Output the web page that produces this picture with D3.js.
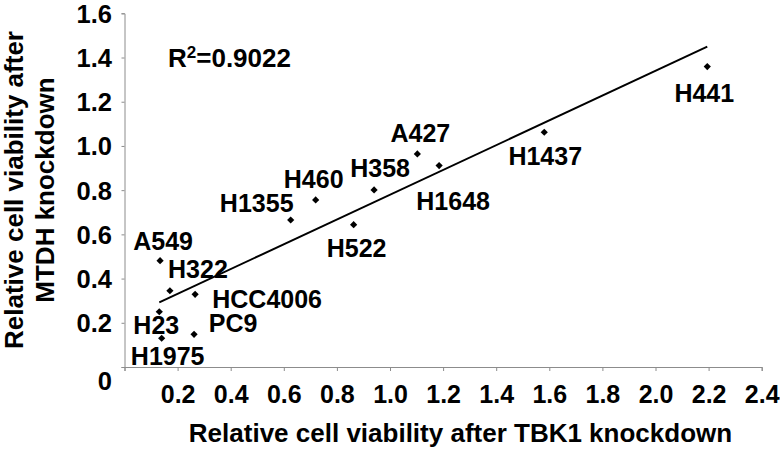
<!DOCTYPE html>
<html>
<head>
<meta charset="utf-8">
<script src="https://cdn.jsdelivr.net/npm/d3@7"></script>
<style>
  html, body { margin: 0; padding: 0; background: #fff; }
  svg { display: block; font-family: "Liberation Sans", Arial, sans-serif; font-weight: bold; }
</style>
</head>
<body>
<svg id="chart" width="780" height="452"></svg>
<script>
// cell lines and their relative viability after knockdown
const cellLines = ["A549", "H322", "HCC4006", "H23", "H1975", "PC9", "H1355", "H460",
                   "H358", "A427", "H1648", "H522", "H1437", "H441"]
const tbk1 = [0.134, 0.171, 0.266, 0.131, 0.140, 0.262, 0.626, 0.720,
              0.940, 1.103, 1.185, 0.863, 1.581, 2.195]
const mtdh = [0.481, 0.345, 0.329, 0.250, 0.130, 0.148, 0.665, 0.756,
              0.801, 0.964, 0.911, 0.644, 1.062, 1.359]
const xTicks = [0, 0.2, 0.4, 0.6, 0.8, 1.0, 1.2, 1.4, 1.6, 1.8, 2.0, 2.2, 2.4]
const yTicks = [0, 0.2, 0.4, 0.6, 0.8, 1.0, 1.2, 1.4, 1.6]
const rSquared = "0.9022"

// where each cell line name sits relative to its marker (px)
const labelDx = [3, 28, 72, -3, 6, 39, -34, -2, 6, 3, 14, 3, 1, -3]
const labelDy = [-11, -13, 14, 22, 27, -2, -8, -12, -13, -12, 44, 32, 33, 35]

let data = cellLines.map((name, i) => ({name: name, x: tbk1[i], y: mtdh[i], dx: labelDx[i], dy: labelDy[i]}))

let width = 780
let height = 452
let margin = ({top: 13.3, right: 18.3, bottom: 85, left: 124.5})

let x = d3.scaleLinear()
    .domain([0, 2.4])
    .range([margin.left, width - margin.right])
let y = d3.scaleLinear()
    .domain([0, 1.6])
    .range([height - margin.bottom, margin.top])

const svg = d3.select("#chart")
const axisColor = "#8c8c8c"

// x axis
svg.append("g")
    .attr("transform", `translate(0,${height - margin.bottom})`)
    .call(d3.axisBottom(x).tickValues(xTicks).tickSizeOuter(0).tickSize(4)
        .tickFormat(d => d === 0 ? "" : d3.format(".1f")(d)))
    .call(g => g.selectAll("path, line").attr("stroke", axisColor))
    .call(g => g.selectAll(".tick text")
        .attr("y", 36).attr("dy", 0)
        .attr("fill", "#000")
        .attr("font-size", 25)
        .attr("font-weight", "bold")
        .attr("font-family", "Liberation Sans, Arial, sans-serif"))

// y axis
svg.append("g")
    .attr("transform", `translate(${margin.left},0)`)
    .call(d3.axisLeft(y).tickValues(yTicks).tickSizeOuter(0).tickSize(3).tickPadding(9.5)
        .tickFormat(d => d === 0 ? "0" : d3.format(".1f")(d)))
    .call(g => g.selectAll("path, line").attr("stroke", axisColor))
    .call(g => g.selectAll(".tick text")
        .attr("fill", "#000")
        .attr("font-size", 25.5)
        .attr("font-weight", "bold")
        .attr("font-family", "Liberation Sans, Arial, sans-serif")
        .attr("dy", d => d === 0 ? "0.9em" : "0.35em"))

// least squares trend line
let mx = d3.mean(tbk1), my = d3.mean(mtdh)
let sxy = d3.sum(tbk1, (v, i) => (v - mx) * (mtdh[i] - my))
let sxx = d3.sum(tbk1, v => (v - mx) * (v - mx))
let slope = sxy / sxx
let intercept = my - slope * mx
let xExt = d3.extent(tbk1)

svg.append("line")
    .attr("x1", x(xExt[0])).attr("y1", y(intercept + slope * xExt[0]))
    .attr("x2", x(xExt[1])).attr("y2", y(intercept + slope * xExt[1]))
    .attr("stroke", "#000")
    .attr("stroke-width", 2)

// diamond markers
svg.append("g")
    .selectAll("path")
    .data(data)
    .join("path")
    .attr("d", d3.symbol(d3.symbolSquare, 26))
    .attr("transform", d => `translate(${x(d.x)},${y(d.y)}) rotate(45)`)
    .attr("fill", "#000")

// cell line labels
svg.append("g")
    .attr("font-size", 25)
    .attr("text-anchor", "middle")
    .selectAll("text")
    .data(data)
    .join("text")
    .attr("x", d => x(d.x) + d.dx)
    .attr("y", d => y(d.y) + d.dy)
    .text(d => d.name)

// R squared
let r2 = svg.append("text")
    .attr("x", 168)
    .attr("y", 66.7)
    .attr("font-size", 26)
r2.append("tspan").text("R")
r2.append("tspan").attr("font-size", 17).attr("dy", -9).text("2")
r2.append("tspan").attr("dy", 9).text("=" + rSquared)

// axis titles
svg.append("text")
    .attr("x", 460.5)
    .attr("y", 442)
    .attr("text-anchor", "middle")
    .attr("font-size", 26)
    .text("Relative cell viability after TBK1 knockdown")

let yTitle = svg.append("text")
    .attr("transform", "translate(0,190) rotate(-90)")
    .attr("text-anchor", "middle")
    .attr("font-size", 26)
yTitle.append("tspan").attr("x", 0).attr("y", 23).text("Relative cell viability after")
yTitle.append("tspan").attr("x", 0).attr("y", 54).text("MTDH knockdown")
</script>
</body>
</html>
